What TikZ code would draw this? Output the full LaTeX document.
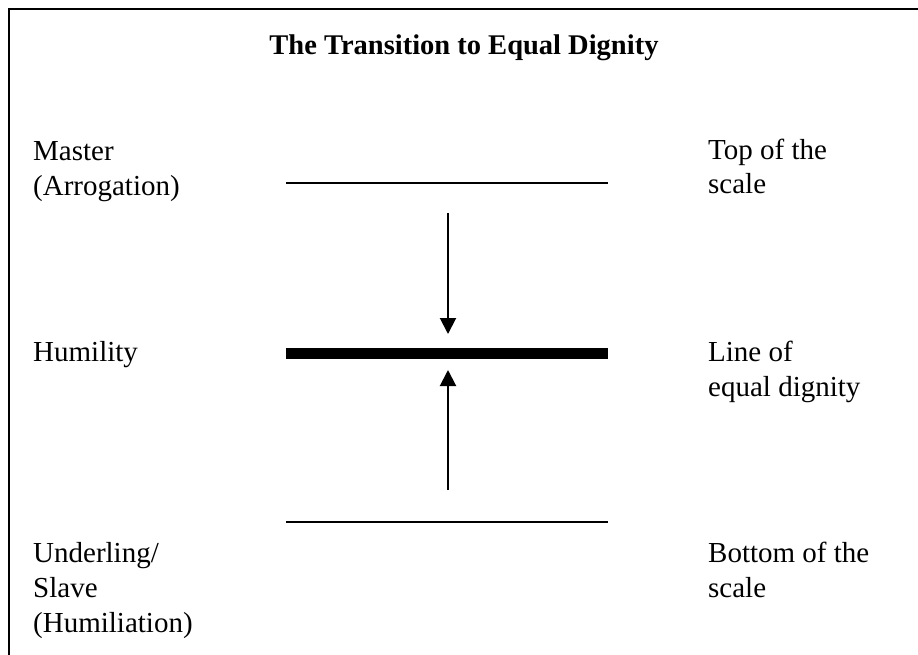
\documentclass[tikz,border=0pt]{standalone}
\usepackage{fontspec}
\setmainfont{Liberation Serif}
\usetikzlibrary{arrows.meta}
\begin{document}
\begin{tikzpicture}[x=1pt,y=-1pt,
  lbl/.style={inner sep=0pt, anchor=base west, align=left, font=\fontsize{29}{35}\selectfont},
  ttl/.style={inner sep=0pt, anchor=base, font=\fontsize{28.5}{34}\selectfont\bfseries},
  level/.style={line width=2pt},
  equal/.style={line width=11pt},
  push/.style={line width=2pt, -{Triangle[width=16pt,length=16pt]}}]
\useasboundingbox (0,0) rectangle (918,655);
\draw[line width=2.5pt] (9,680) -- (9,9) -- (940,9);
\node[ttl] (title) at (464,55) {The Transition to Equal Dignity};
% base anchor of a multi-line node is the baseline of its last line
\node[lbl] (master) at (33,196) {Master\\(Arrogation)};
\node[lbl] (humility) at (33,361) {Humility};
\node[lbl] (underling) at (33,632) {Underling/\\Slave\\(Humiliation)};
\node[lbl] (top) at (708,194) {Top of the\\scale};
\node[lbl] (equalline) at (708,396) {Line of\\equal dignity};
\node[lbl] (bottom) at (708,597) {Bottom of the\\scale};
\coordinate (tl) at (286,183.5);
\coordinate (tr) at (608,183.5);
\coordinate (ml) at (286,353);
\coordinate (mr) at (608,353);
\coordinate (bl) at (286,522);
\coordinate (br) at (608,522);
\draw[level] (tl) -- (tr);
\draw[equal] (ml) -- (mr);
\draw[level] (bl) -- (br);
\coordinate (d1) at (448,213);
\coordinate (d2) at (448,334);
\coordinate (u1) at (448,490);
\coordinate (u2) at (448,370);
\draw[push] (d1) -- (d2);
\draw[push] (u1) -- (u2);
\end{tikzpicture}
\end{document}
